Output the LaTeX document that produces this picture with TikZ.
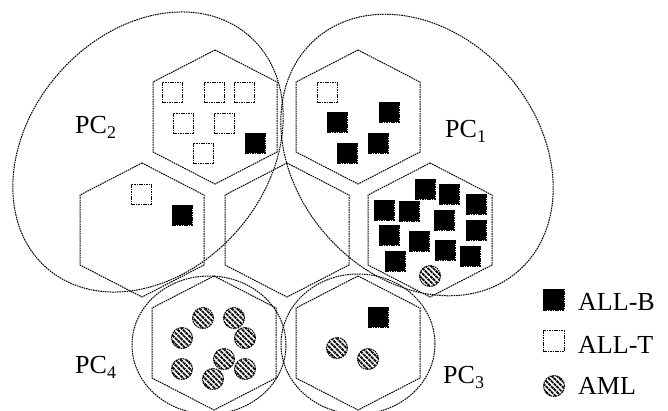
\documentclass[tikz,border=0pt]{standalone}
\usepackage{fontspec}
\setmainfont{Liberation Serif}
\usetikzlibrary{patterns.meta}
\begin{document}
\begin{tikzpicture}[x=1pt,y=-1pt,
  outl/.style={line width=1pt, dash pattern=on 1.6pt off 0.8pt},
  bsq/.style={draw, outl, fill=black, minimum size=20pt, inner sep=0pt},
  wsq/.style={draw, outl, fill=white, minimum size=20pt, inner sep=0pt},
  aml/.style={circle, draw, outl, minimum size=21pt, inner sep=0pt,
    pattern={Lines[angle=-45,distance=3.8pt,line width=1.9pt]}},
  lab/.style={font=\fontsize{26}{26}\selectfont, anchor=base west, inner sep=0pt},
  hexcell/.pic={\draw[outl] (0,-67) -- (62,-35) -- (62,35) -- (0,67) -- (-62,35) -- (-62,-35) -- cycle;}
]
\useasboundingbox (0,0) rectangle (668,410);

% hexagonal cells
\pic at (215,117) {hexcell};
\pic at (358,117) {hexcell};
\pic at (142,230) {hexcell};
\pic at (287,230) {hexcell};
\pic at (430,230) {hexcell};
\pic at (214,343) {hexcell};
\pic at (358,343) {hexcell};

% cluster outlines
\draw[outl, rotate around={49:(148,152)}] (148,152) ellipse [x radius=154pt, y radius=119pt];
\draw[outl, rotate around={-49:(417,155)}] (417,155) ellipse [x radius=154pt, y radius=121pt];
\draw[outl] (209,345) ellipse [x radius=77pt, y radius=69pt];
\draw[outl] (358,344) ellipse [x radius=77pt, y radius=70pt];

% top-left cell
\node[wsq] (a1) at (172,92) {};
\node[wsq] (a2) at (214,92) {};
\node[wsq] (a3) at (244,92) {};
\node[wsq] (a4) at (183,123) {};
\node[wsq] (a5) at (224,123) {};
\node[bsq] (a6) at (255,143) {};
\node[wsq] (a7) at (203,153) {};

% top-right cell
\node[wsq] (b1) at (327,92) {};
\node[bsq] (b2) at (389,112) {};
\node[bsq] (b3) at (337,122) {};
\node[bsq] (b4) at (378,143) {};
\node[bsq] (b5) at (347,153) {};

% middle-left cell
\node[wsq] (c1) at (141,194) {};
\node[bsq] (c2) at (182,215) {};

% middle-right cell
\node[bsq] (d1) at (425,189) {};
\node[bsq] (d2) at (449,194) {};
\node[bsq] (d3) at (476,204) {};
\node[bsq] (d4) at (384,210) {};
\node[bsq] (d5) at (409,211) {};
\node[bsq] (d6) at (444,220) {};
\node[bsq] (d7) at (476,230) {};
\node[bsq] (d8) at (389,235) {};
\node[bsq] (d9) at (419,241) {};
\node[bsq] (d10) at (445,250) {};
\node[bsq] (d11) at (470,256) {};
\node[bsq] (d12) at (395,261) {};
\node[aml] (d13) at (430,276) {};

% bottom-left cell
\node[aml] (e1) at (203,318) {};
\node[aml] (e2) at (234,318) {};
\node[aml] (e3) at (182,338) {};
\node[aml] (e4) at (245,338) {};
\node[aml] (e5) at (224,359) {};
\node[aml] (e6) at (182,369) {};
\node[aml] (e7) at (245,369) {};
\node[aml] (e8) at (213,379) {};

% bottom-right cell
\node[bsq] (f1) at (378,317) {};
\node[aml] (f2) at (337,348) {};
\node[aml] (f3) at (368,359) {};

% cluster labels
\node[lab] (pc2) at (75,133) {PC\raisebox{-5pt}{\fontsize{18}{18}\selectfont 2}};
\node[lab] (pc1) at (445,137) {PC\raisebox{-5pt}{\fontsize{18}{18}\selectfont 1}};
\node[lab] (pc4) at (75,373) {PC\raisebox{-5pt}{\fontsize{18}{18}\selectfont 4}};
\node[lab] (pc3) at (443,383) {PC\raisebox{-5pt}{\fontsize{18}{18}\selectfont 3}};

% legend
\node[bsq, minimum size=21pt] (lb) at (553.5,299.5) {};
\node[lab] (lbt) at (578,310) {ALL-B};
\node[wsq, minimum size=21pt] (lt) at (553.5,341) {};
\node[lab] (ltt) at (578,353) {ALL-T};
\node[aml] (la) at (554,386) {};
\node[lab] (lat) at (578,394) {AML};
\end{tikzpicture}
\end{document}
